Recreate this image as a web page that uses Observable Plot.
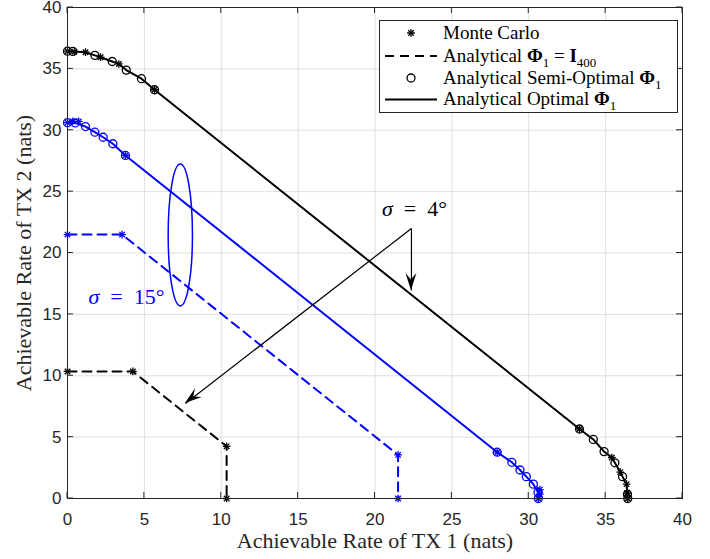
<!DOCTYPE html>
<html><head><meta charset="utf-8">
<script src="https://cdn.jsdelivr.net/npm/d3@7"></script>
<script src="https://cdn.jsdelivr.net/npm/@observablehq/plot@0.6"></script>
<style>body{margin:0;background:#fff}</style>
</head><body><div id="chart"></div>
<script>
// ---------- data ----------
const xTicks = [0, 5, 10, 15, 20, 25, 30, 35, 40];
const yTicks = [0, 5, 10, 15, 20, 25, 30, 35, 40];

// sigma = 4 deg
const opt4 = [[0,36.44],[0.35,36.42],[1.17,36.36],[1.78,36.1],[2.15,35.95],[2.91,35.6],[3.34,35.4],[3.82,34.9],[4.81,34.2],[5.66,33.3],
              [33.3,5.66],[34.2,4.81],[34.9,3.82],[35.4,3.34],[35.6,2.91],[35.95,2.15],[36.1,1.78],[36.36,1.17],[36.42,0.35],[36.44,0]];
const semi4 = [[0,36.44],[0.35,36.42],[1.78,36.1],[2.91,35.6],[3.82,34.9],[4.81,34.2],[5.66,33.3],
               [33.3,5.66],[34.2,4.81],[34.9,3.82],[35.6,2.91],[36.1,1.78],[36.42,0.35],[36.44,0]];
const mc4 = [[0,36.44],[0.45,36.4],[1.17,36.36],[2.15,35.95],[3.34,35.4],[5.66,33.3],
             [33.3,5.66],[35.4,3.34],[35.95,2.15],[36.36,1.17],[36.4,0.45],[36.44,0]];
const iden4 = [[0,10.35],[4.25,10.35],[10.35,4.25],[10.35,0]];

// sigma = 15 deg
const opt15 = [[0,30.62],[0.5,30.6],[1.17,30.3],[1.78,29.84],[2.32,29.43],[2.95,28.9],[3.77,27.95],
               [27.95,3.77],[28.9,2.95],[29.43,2.32],[29.84,1.78],[30.3,1.17],[30.6,0.5],[30.62,0]];
const semi15 = opt15;
const mc15 = [[0,30.62],[0.35,30.72],[0.73,30.72],[3.77,27.95],
              [27.95,3.77],[30.72,0.73],[30.72,0.35],[30.62,0]];
const iden15 = [[0,21.5],[3.55,21.5],[21.5,3.55],[21.5,0]];

// annotations
const annLabels = ["4°", "15°"];
const annX = [22.6, 3.87];
const annY = [23.55, 16.37];
const annColors = ["#000000", "#0000ff"];
const arrowStart = [22.37, 22.0];
const arrowEnds = [[22.37, 16.95], [7.67, 7.74]];
const ellipseCenter = [7.37, 21.42];
const ellipseRadii = [0.79, 5.78];

const legendLabels = ["Monte Carlo", "Analytical ", "Analytical Semi-Optimal ", "Analytical Optimal "];

// ---------- styles ----------
const SERIF = "Liberation Serif, Times New Roman, serif";
const SANS = "Liberation Sans, Arial, sans-serif";
const BLACK = "#000000", BLUE = "#0000ff", AX = "#262626";

const pts = a => a.map(([x, y]) => ({x, y}));

function starMarks(data, color) {
  return [
    Plot.dot(pts(data), {x: "x", y: "y", symbol: "plus", r: 2.6, stroke: color, strokeWidth: 1.3}),
    Plot.dot(pts(data), {x: "x", y: "y", symbol: "times", r: 2.6, stroke: color, strokeWidth: 1.3})
  ];
}

function innerTicks(index, scales, values, dims) {
  const {width, height, marginTop, marginRight, marginBottom, marginLeft} = dims;
  const L = marginLeft, R = width - marginRight, T = marginTop, B = height - marginBottom;
  const g = d3.create("svg:g").attr("stroke", AX).attr("stroke-width", 1);
  for (const t of xTicks) {
    const px = scales.x(t);
    g.append("line").attr("x1", px).attr("x2", px).attr("y1", B).attr("y2", B - 6);
    g.append("line").attr("x1", px).attr("x2", px).attr("y1", T).attr("y2", T + 6);
  }
  for (const t of yTicks) {
    const py = scales.y(t);
    g.append("line").attr("y1", py).attr("y2", py).attr("x1", L).attr("x2", L + 6);
    g.append("line").attr("y1", py).attr("y2", py).attr("x1", R).attr("x2", R - 6);
  }
  return g.node();
}

function ellipseMark(index, {x, y}) {
  const cx = x(ellipseCenter[0]), cy = y(ellipseCenter[1]);
  const rx = x(ellipseCenter[0] + ellipseRadii[0]) - cx;
  const ry = cy - y(ellipseCenter[1] + ellipseRadii[1]);
  return d3.create("svg:ellipse").attr("cx", cx).attr("cy", cy).attr("rx", rx).attr("ry", ry)
    .attr("fill", "none").attr("stroke", BLUE).attr("stroke-width", 1.5).node();
}

function arrowHeads(index, {x, y}) {
  const g = d3.create("svg:g").attr("fill", BLACK);
  const sx = x(arrowStart[0]), sy = y(arrowStart[1]);
  const L = 17, W = 11;
  for (const e of arrowEnds) {
    const ex = x(e[0]), ey = y(e[1]);
    const ang = Math.atan2(ey - sy, ex - sx);
    const c = Math.cos(ang), s = Math.sin(ang);
    const P = (u, v) => [ex + u * c - v * s, ey + u * s + v * c];
    const poly = [P(0, 0), P(-L, W / 2), P(-0.62 * L, 0), P(-L, -W / 2)];
    g.append("polygon").attr("points", poly.map(p => p.join(",")).join(" "));
  }
  return g.node();
}

function annText(index, {x, y}) {
  const g = d3.create("svg:g").attr("font-family", SERIF).attr("font-size", 22);
  annLabels.forEach((lab, i) => {
    const t = g.append("text").attr("x", x(annX[i])).attr("y", y(annY[i])).attr("dy", "0.33em")
      .attr("text-anchor", "middle").attr("fill", annColors[i]);
    t.append("tspan").attr("font-style", "italic").text("σ");
    t.append("tspan").text("\u2002=\u2002" + lab);
  });
  return g.node();
}

function legendMark() {
  const g = d3.create("svg:g");
  const x0 = 379.5, y0 = 20.5, w = 298, h = 92;
  g.append("rect").attr("x", x0).attr("y", y0).attr("width", w).attr("height", h)
    .attr("fill", "white").attr("stroke", AX).attr("stroke-width", 1);
  const rows = [33, 56, 78, 99.5];
  const lx1 = 385, lx2 = 437, mx = 411, tx = 443;
  const FS = 19;
  const sym = (type) => d3.symbol().type(type).size(Math.PI * 2.6 * 2.6)();
  [d3.symbolPlus, d3.symbolTimes].forEach(tp =>
    g.append("path").attr("d", sym(tp)).attr("transform", `translate(${mx},${rows[0]})`)
      .attr("fill", "none").attr("stroke", BLACK).attr("stroke-width", 1.3));
  g.append("line").attr("x1", lx1).attr("x2", lx2).attr("y1", rows[1]).attr("y2", rows[1])
    .attr("stroke", BLACK).attr("stroke-width", 2).attr("stroke-dasharray", "9,6");
  g.append("circle").attr("cx", mx).attr("cy", rows[2]).attr("r", 4).attr("fill", "none")
    .attr("stroke", BLACK).attr("stroke-width", 1.3);
  g.append("line").attr("x1", lx1).attr("x2", lx2).attr("y1", rows[3]).attr("y2", rows[3])
    .attr("stroke", BLACK).attr("stroke-width", 2);

  const txt = (i) => g.append("text").attr("x", tx).attr("y", rows[i]).attr("dy", "0.3em")
    .attr("text-anchor", "start")
    .attr("font-family", SERIF).attr("font-size", FS).attr("fill", BLACK);
  const sub = (t, s) => { t.append("tspan").attr("font-size", 13).attr("dy", 5).text(s); };
  const up = (t, s) => t.append("tspan").attr("dy", -5).text(s);

  txt(0).text(legendLabels[0]);
  let t = txt(1); t.append("tspan").text(legendLabels[1]);
  t.append("tspan").attr("font-weight", "bold").text("Φ"); sub(t, "1");
  up(t, " = "); t.append("tspan").attr("font-weight", "bold").text("I"); sub(t, "400");
  t = txt(2); t.append("tspan").text(legendLabels[2]);
  t.append("tspan").attr("font-weight", "bold").text("Φ"); sub(t, "1");
  t = txt(3); t.append("tspan").text(legendLabels[3]);
  t.append("tspan").attr("font-weight", "bold").text("Φ"); sub(t, "1");
  return g.node();
}

const chart = Plot.plot({
  width: 710,
  height: 559,
  marginLeft: 67,
  marginRight: 28,
  marginTop: 7,
  marginBottom: 61,
  style: {fontFamily: SANS, fontSize: "17px", color: AX, background: "white"},
  x: {domain: [0, 40], ticks: xTicks, tickSize: 0, tickPadding: 14, label: null},
  y: {domain: [0, 40], ticks: yTicks, tickSize: 0, tickPadding: 6, label: null},
  marks: [
    Plot.gridX(xTicks, {stroke: "#dfdfdf", strokeOpacity: 1}),
    Plot.gridY(yTicks, {stroke: "#dfdfdf", strokeOpacity: 1}),
    Plot.line(pts(iden15), {x: "x", y: "y", stroke: BLUE, strokeWidth: 2, strokeDasharray: "9,6"}),
    Plot.line(pts(opt15), {x: "x", y: "y", stroke: BLUE, strokeWidth: 2}),
    Plot.dot(pts(semi15), {x: "x", y: "y", r: 4, stroke: BLUE, strokeWidth: 1.3, fill: "none"}),
    ...starMarks(mc15, BLUE),
    ...starMarks(iden15, BLUE),
    Plot.line(pts(iden4), {x: "x", y: "y", stroke: BLACK, strokeWidth: 2, strokeDasharray: "9,6"}),
    Plot.line(pts(opt4), {x: "x", y: "y", stroke: BLACK, strokeWidth: 2}),
    Plot.dot(pts(semi4), {x: "x", y: "y", r: 4, stroke: BLACK, strokeWidth: 1.3, fill: "none"}),
    ...starMarks(mc4, BLACK),
    ...starMarks(iden4, BLACK),
    ellipseMark,
    Plot.link(arrowEnds, {x1: () => arrowStart[0], y1: () => arrowStart[1], x2: d => d[0], y2: d => d[1], stroke: BLACK, strokeWidth: 1.2}),
    arrowHeads,
    annText,
    Plot.frame({stroke: AX, strokeWidth: 1}),
    innerTicks,
    legendMark,
    Plot.text(["Achievable Rate of TX 1 (nats)"], {frameAnchor: "bottom", dy: 42, lineAnchor: "middle", textAnchor: "middle", fontFamily: SERIF, fontSize: 22, fill: AX}),
    Plot.text(["Achievable Rate of TX 2 (nats)"], {frameAnchor: "left", dx: -44, rotate: -90, lineAnchor: "middle", textAnchor: "middle", fontFamily: SERIF, fontSize: 22, fill: AX})
  ]
});
document.getElementById("chart").appendChild(chart);
</script>
</body></html>
